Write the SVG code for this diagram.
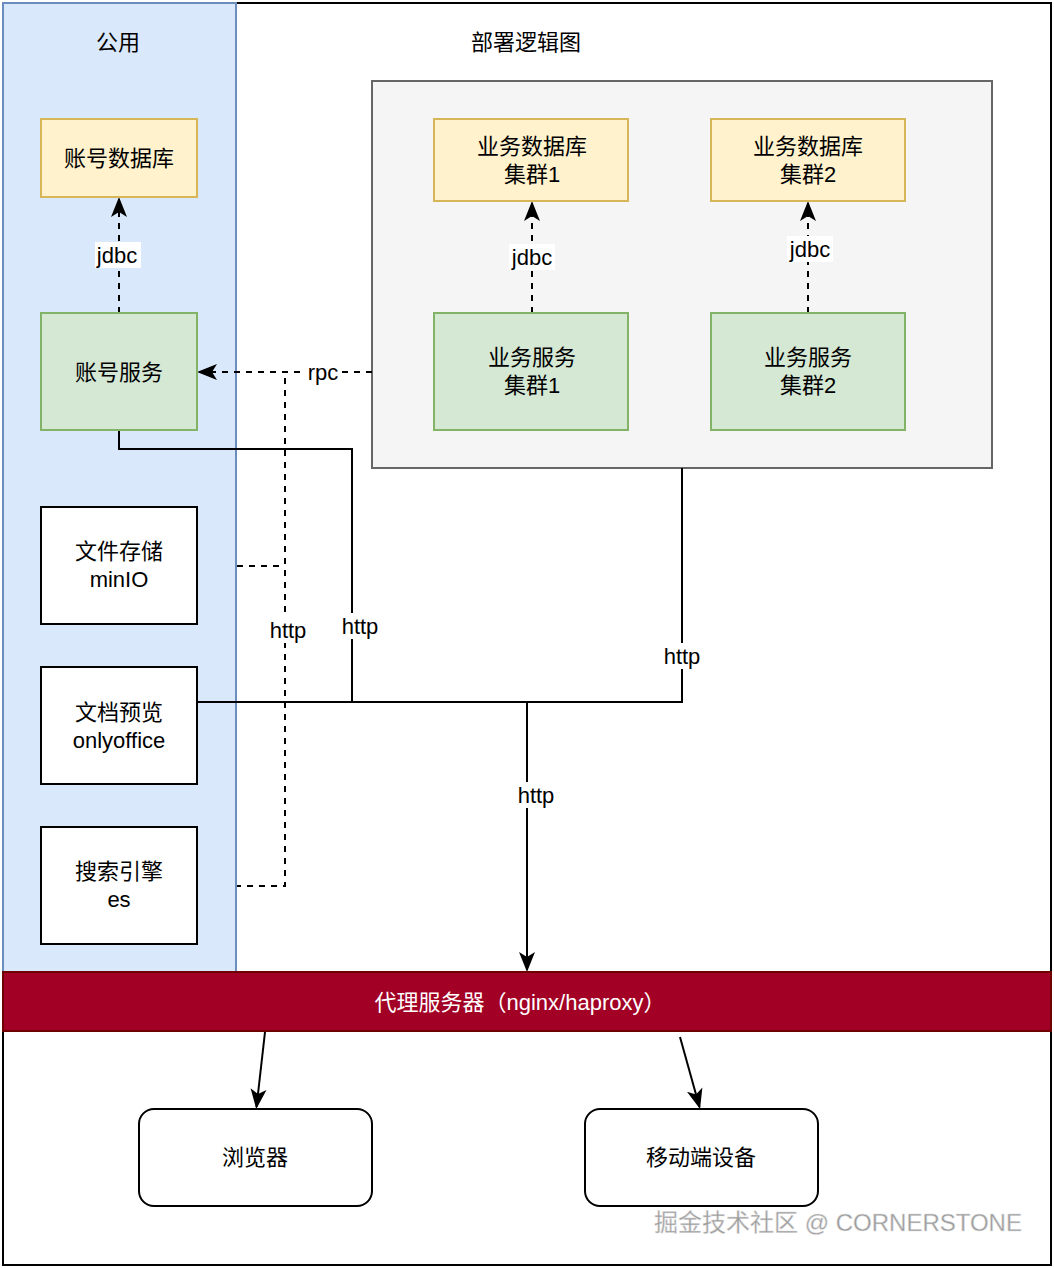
<svg xmlns="http://www.w3.org/2000/svg" width="1054" height="1268" viewBox="0 0 1054 1268">
<defs>
<style>
text{font-family:"Liberation Sans","Noto Sans CJK SC",sans-serif;font-size:22px;fill:#000;text-anchor:middle;dominant-baseline:central}
.db{fill:#fff2cc;stroke:#d6b656;stroke-width:2}
.svc{fill:#d5e8d4;stroke:#82b366;stroke-width:2}
.plain{fill:#fff;stroke:#000;stroke-width:2}
.line{fill:none;stroke:#000;stroke-width:2}
.dash{fill:none;stroke:#000;stroke-width:2;stroke-dasharray:6 6}
.lbl{fill:#fff}
</style>
<marker id="arr" viewBox="0 0 10 10" refX="9" refY="5" markerWidth="10" markerHeight="10" markerUnits="userSpaceOnUse" orient="auto">
<path d="M0,0 L10,5 L0,10 L3,5 Z" fill="#000"/>
</marker>
<marker id="arrL" viewBox="0 0 20 20" refX="18" refY="10" markerWidth="20" markerHeight="20" markerUnits="userSpaceOnUse" orient="auto">
<path d="M0,2 L20,10 L0,18 L5,10 Z" fill="#000"/>
</marker>
</defs>
<rect x="0" y="0" width="1054" height="1268" fill="#fff"/>
<g id="frame">
<rect x="3" y="3" width="1048" height="1262" fill="#fff" stroke="#000" stroke-width="2"/>
</g>
<g id="public-panel">
<rect x="3" y="3" width="233" height="969" fill="#dae8fc" stroke="#6c8ebf" stroke-width="2"/>
<text x="118" y="42">公用</text>
</g>
<g id="title">
<text x="526" y="42">部署逻辑图</text>
</g>
<g id="biz-container">
<rect x="372" y="81" width="620" height="387" fill="#f5f5f5" stroke="#666" stroke-width="2"/>
</g>
<g id="connectors">
<path class="line" d="M119,430 V449 H352 V702"/>
<path class="line" d="M197,702 H682 V468"/>
<path class="line" d="M527,702 V970" marker-end="url(#arrL)"/>
<path class="dash" d="M372,372 H199" marker-end="url(#arrL)"/>
<path class="dash" d="M285,378 V886 H237"/>
<path class="dash" d="M237,566 H285"/>
<path class="dash" d="M119,313 V199" marker-end="url(#arrL)"/>
<path class="dash" d="M532,313 V203" marker-end="url(#arrL)"/>
<path class="dash" d="M808,313 V203" marker-end="url(#arrL)"/>
<path class="line" d="M265,1032 L256.5,1107" marker-end="url(#arrL)"/>
<path class="line" d="M680,1037 L699.5,1107" marker-end="url(#arrL)"/>
<rect class="lbl" x="95" y="242" width="46" height="26"/>
<text x="117" y="255">jdbc</text>
<rect class="lbl" x="509" y="244" width="46" height="26"/>
<text x="532" y="257">jdbc</text>
<rect class="lbl" x="787" y="236" width="46" height="26"/>
<text x="810" y="249">jdbc</text>
<rect class="lbl" x="305" y="360" width="36" height="24"/>
<text x="323" y="372">rpc</text>
<rect class="lbl" x="268" y="617" width="40" height="26"/>
<text x="288" y="630">http</text>
<rect class="lbl" x="340" y="613" width="40" height="26"/>
<text x="360" y="626">http</text>
<rect class="lbl" x="662" y="643" width="40" height="26"/>
<text x="682" y="656">http</text>
<rect class="lbl" x="516" y="782" width="40" height="26"/>
<text x="536" y="795">http</text>
</g>
<g id="account-db">
<rect class="db" x="41" y="119" width="156" height="78"/>
<text x="119" y="158">账号数据库</text>
</g>
<g id="account-svc">
<rect class="svc" x="41" y="313" width="156" height="117"/>
<text x="119" y="372">账号服务</text>
</g>
<g id="biz-db-1">
<rect class="db" x="434" y="119" width="194" height="82"/>
<text x="532" y="146">业务数据库</text>
<text x="532" y="174">集群1</text>
</g>
<g id="biz-db-2">
<rect class="db" x="711" y="119" width="194" height="82"/>
<text x="808" y="146">业务数据库</text>
<text x="808" y="174">集群2</text>
</g>
<g id="biz-svc-1">
<rect class="svc" x="434" y="313" width="194" height="117"/>
<text x="532" y="357">业务服务</text>
<text x="532" y="385">集群1</text>
</g>
<g id="biz-svc-2">
<rect class="svc" x="711" y="313" width="194" height="117"/>
<text x="808" y="357">业务服务</text>
<text x="808" y="385">集群2</text>
</g>
<g id="file-storage">
<rect class="plain" x="41" y="507" width="156" height="117"/>
<text x="119" y="551">文件存储</text>
<text x="119" y="579">minIO</text>
</g>
<g id="doc-preview">
<rect class="plain" x="41" y="667" width="156" height="117"/>
<text x="119" y="712">文档预览</text>
<text x="119" y="740">onlyoffice</text>
</g>
<g id="search">
<rect class="plain" x="41" y="827" width="156" height="117"/>
<text x="119" y="871">搜索引擎</text>
<text x="119" y="899">es</text>
</g>
<g id="proxy">
<rect x="3" y="972" width="1048" height="59" fill="#a20025" stroke="#6f0000" stroke-width="2"/>
<text x="520" y="1002" style="fill:#fff">代理服务器（nginx/haproxy）</text>
</g>
<g id="browser">
<rect class="plain" x="139" y="1109" width="233" height="97" rx="15"/>
<text x="255" y="1157">浏览器</text>
</g>
<g id="mobile">
<rect class="plain" x="585" y="1109" width="233" height="97" rx="15"/>
<text x="701" y="1157">移动端设备</text>
</g>
<g id="watermark">
<text x="838" y="1222" style="font-size:24px;fill:#9a9a9a;stroke:#e0e0e0;stroke-width:0.5">掘金技术社区 @ CORNERSTONE</text>
</g>
</svg>
